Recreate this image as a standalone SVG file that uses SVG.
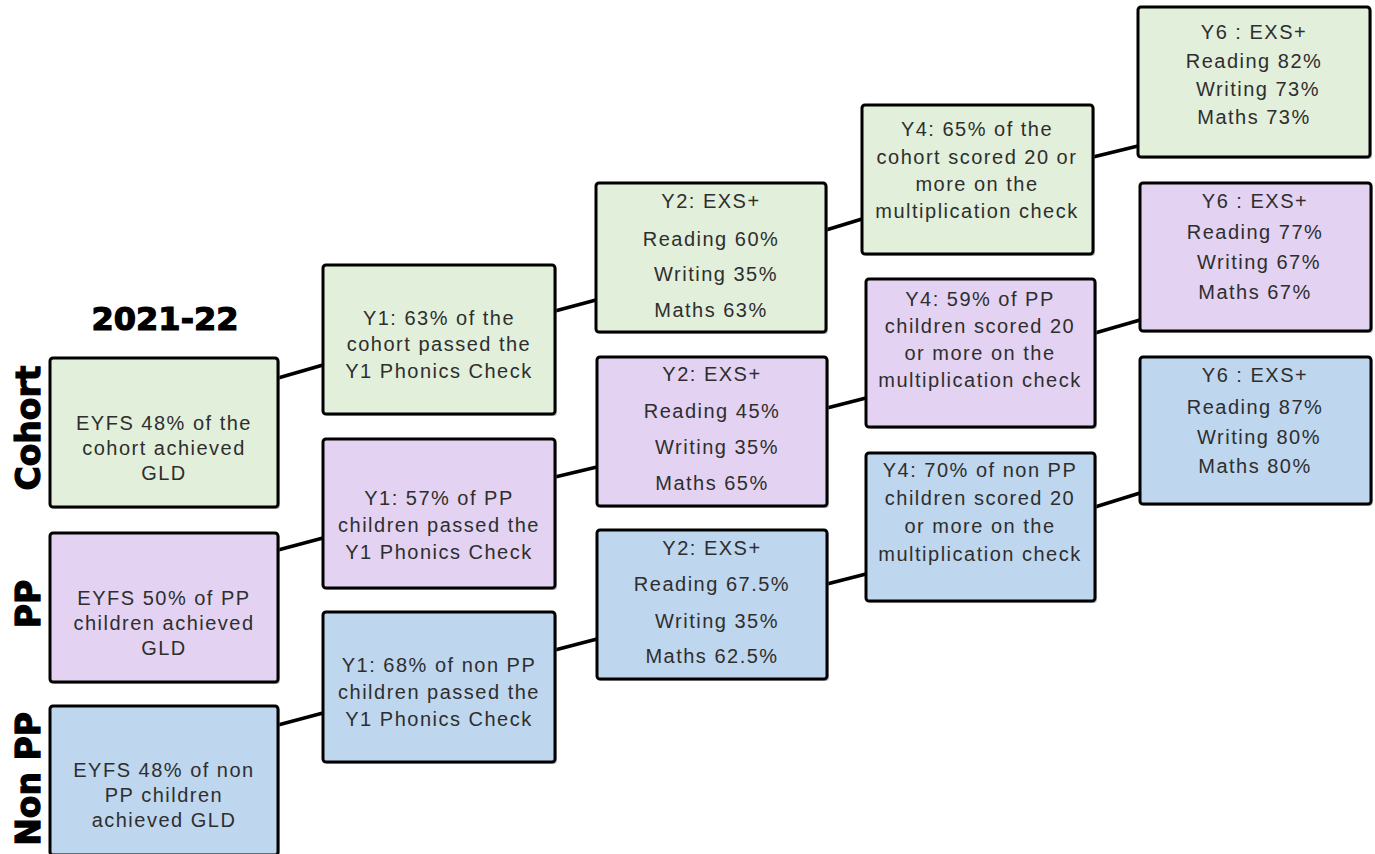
<svg xmlns="http://www.w3.org/2000/svg" width="1375" height="854" viewBox="0 0 1375 854">
<style>
.sh{fill:#9a9a9a;opacity:0.55}
.bx{stroke:#000;stroke-width:3}
.g{fill:#e2efda}
.p{fill:#e3d2f1}
.b{fill:#bed6ee}
.t{font-family:"Liberation Sans",Arial,sans-serif;font-size:20px;letter-spacing:1.5px;fill:#2e2e2e;text-anchor:middle}
.h{font-family:"DejaVu Sans",sans-serif;font-weight:bold;font-size:32px;fill:#000;stroke:#000;stroke-width:1.2;text-anchor:middle}
.c{stroke:#000;stroke-width:3.5;fill:none}
</style>
<rect width="1375" height="854" fill="#fff"/>
<g id="labels">
<text class="h" x="165" y="330">2021-22</text>
<text class="h" transform="translate(40,428) rotate(-90)" style="font-size:33px">Cohort</text>
<text class="h" transform="translate(40,604) rotate(-90)" style="font-size:33px">PP</text>
<text class="h" transform="translate(40,779) rotate(-90)" style="font-size:33px">Non PP</text>
</g>
<g id="connectors">
<line class="c" x1="278" y1="378" x2="323" y2="365"/>
<line class="c" x1="278" y1="550" x2="323" y2="538"/>
<line class="c" x1="278" y1="725" x2="323" y2="713"/>
<line class="c" x1="555" y1="311" x2="596" y2="300"/>
<line class="c" x1="555" y1="477" x2="597" y2="467"/>
<line class="c" x1="555" y1="650" x2="597" y2="639"/>
<line class="c" x1="826" y1="230" x2="862" y2="219"/>
<line class="c" x1="827" y1="408" x2="866" y2="398"/>
<line class="c" x1="827" y1="584" x2="866" y2="574"/>
<line class="c" x1="1093" y1="157" x2="1138" y2="146"/>
<line class="c" x1="1095" y1="333" x2="1140" y2="320"/>
<line class="c" x1="1095" y1="507" x2="1140" y2="493"/>
</g>
<g id="eyfs-cohort">
<rect class="sh" x="52" y="360" width="228" height="149" rx="3"/>
<rect class="bx g" x="50" y="358" width="228" height="149" rx="3"/>
<text class="t" x="164" y="430">EYFS 48% of the</text>
<text class="t" x="164" y="455">cohort achieved</text>
<text class="t" x="164" y="480">GLD</text>
</g>
<g id="eyfs-pp">
<rect class="sh" x="52" y="535" width="228" height="149" rx="3"/>
<rect class="bx p" x="50" y="533" width="228" height="149" rx="3"/>
<text class="t" x="164" y="605">EYFS 50% of PP</text>
<text class="t" x="164" y="630">children achieved</text>
<text class="t" x="164" y="655">GLD</text>
</g>
<g id="eyfs-nonpp">
<rect class="sh" x="52" y="708" width="228" height="149" rx="3"/>
<rect class="bx b" x="50" y="706" width="228" height="149" rx="3"/>
<text class="t" x="164" y="777">EYFS 48% of non</text>
<text class="t" x="164" y="802">PP children</text>
<text class="t" x="164" y="827">achieved GLD</text>
</g>
<g id="y1-cohort">
<rect class="sh" x="325" y="267" width="232" height="149" rx="3"/>
<rect class="bx g" x="323" y="265" width="232" height="149" rx="3"/>
<text class="t" x="439" y="325">Y1: 63% of the</text>
<text class="t" x="439" y="351">cohort passed the</text>
<text class="t" x="439" y="378">Y1 Phonics Check</text>
</g>
<g id="y1-pp">
<rect class="sh" x="325" y="441" width="232" height="149" rx="3"/>
<rect class="bx p" x="323" y="439" width="232" height="149" rx="3"/>
<text class="t" x="439" y="505">Y1: 57% of PP</text>
<text class="t" x="439" y="532">children passed the</text>
<text class="t" x="439" y="559">Y1 Phonics Check</text>
</g>
<g id="y1-nonpp">
<rect class="sh" x="325" y="614" width="232" height="150" rx="3"/>
<rect class="bx b" x="323" y="612" width="232" height="150" rx="3"/>
<text class="t" x="439" y="672">Y1: 68% of non PP</text>
<text class="t" x="439" y="699">children passed the</text>
<text class="t" x="439" y="726">Y1 Phonics Check</text>
</g>
<g id="y2-cohort">
<rect class="sh" x="598" y="185" width="230" height="149" rx="3"/>
<rect class="bx g" x="596" y="183" width="230" height="149" rx="3"/>
<text class="t" x="711" y="208">Y2: EXS+</text>
<text class="t" x="711" y="246">Reading 60%</text>
<text class="t" x="716" y="281">Writing 35%</text>
<text class="t" x="711" y="317">Maths 63%</text>
</g>
<g id="y2-pp">
<rect class="sh" x="599" y="359" width="230" height="149" rx="3"/>
<rect class="bx p" x="597" y="357" width="230" height="149" rx="3"/>
<text class="t" x="712" y="381">Y2: EXS+</text>
<text class="t" x="712" y="418">Reading 45%</text>
<text class="t" x="717" y="454">Writing 35%</text>
<text class="t" x="712" y="490">Maths 65%</text>
</g>
<g id="y2-nonpp">
<rect class="sh" x="599" y="532" width="230" height="149" rx="3"/>
<rect class="bx b" x="597" y="530" width="230" height="149" rx="3"/>
<text class="t" x="712" y="555">Y2: EXS+</text>
<text class="t" x="712" y="591">Reading 67.5%</text>
<text class="t" x="717" y="628">Writing 35%</text>
<text class="t" x="712" y="663">Maths 62.5%</text>
</g>
<g id="y4-cohort">
<rect class="sh" x="864" y="107" width="231" height="149" rx="3"/>
<rect class="bx g" x="862" y="105" width="231" height="149" rx="3"/>
<text class="t" x="977" y="136">Y4: 65% of the</text>
<text class="t" x="977" y="164">cohort scored 20 or</text>
<text class="t" x="977" y="191">more on the</text>
<text class="t" x="977" y="218">multiplication check</text>
</g>
<g id="y4-pp">
<rect class="sh" x="868" y="281" width="229" height="148" rx="3"/>
<rect class="bx p" x="866" y="279" width="229" height="148" rx="3"/>
<text class="t" x="980" y="306">Y4: 59% of PP</text>
<text class="t" x="980" y="333">children scored 20</text>
<text class="t" x="980" y="360">or more on the</text>
<text class="t" x="980" y="387">multiplication check</text>
</g>
<g id="y4-nonpp">
<rect class="sh" x="868" y="455" width="229" height="148" rx="3"/>
<rect class="bx b" x="866" y="453" width="229" height="148" rx="3"/>
<text class="t" x="980" y="477">Y4: 70% of non PP</text>
<text class="t" x="980" y="505">children scored 20</text>
<text class="t" x="980" y="533">or more on the</text>
<text class="t" x="980" y="561">multiplication check</text>
</g>
<g id="y6-cohort">
<rect class="sh" x="1140" y="9" width="232" height="150" rx="3"/>
<rect class="bx g" x="1138" y="7" width="232" height="150" rx="3"/>
<text class="t" x="1254" y="39">Y6 : EXS+</text>
<text class="t" x="1254" y="68">Reading 82%</text>
<text class="t" x="1258" y="96">Writing 73%</text>
<text class="t" x="1254" y="124">Maths 73%</text>
</g>
<g id="y6-pp">
<rect class="sh" x="1142" y="185" width="231" height="148" rx="3"/>
<rect class="bx p" x="1140" y="183" width="231" height="148" rx="3"/>
<text class="t" x="1255" y="208">Y6 : EXS+</text>
<text class="t" x="1255" y="239">Reading 77%</text>
<text class="t" x="1259" y="269">Writing 67%</text>
<text class="t" x="1255" y="299">Maths 67%</text>
</g>
<g id="y6-nonpp">
<rect class="sh" x="1142" y="359" width="231" height="147" rx="3"/>
<rect class="bx b" x="1140" y="357" width="231" height="147" rx="3"/>
<text class="t" x="1255" y="382">Y6 : EXS+</text>
<text class="t" x="1255" y="414">Reading 87%</text>
<text class="t" x="1259" y="444">Writing 80%</text>
<text class="t" x="1255" y="473">Maths 80%</text>
</g>
</svg>
